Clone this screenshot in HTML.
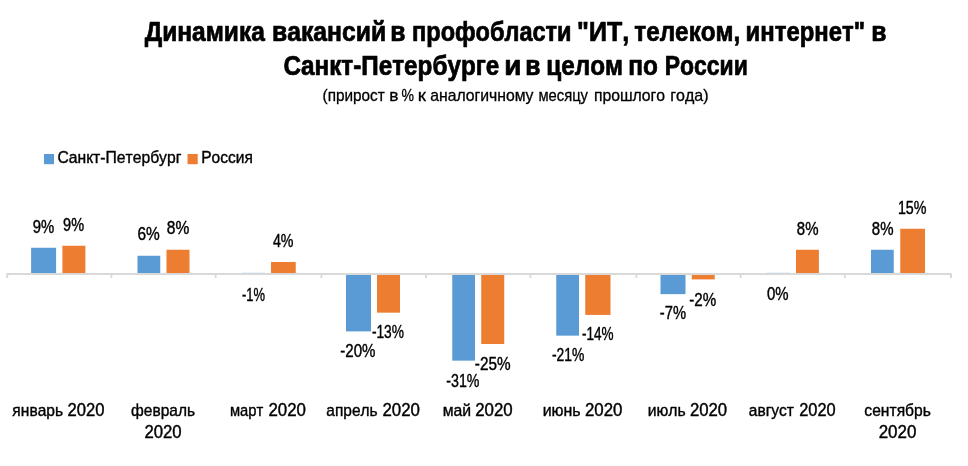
<!DOCTYPE html>
<html lang="ru"><head><meta charset="utf-8"><title>Динамика вакансий</title>
<style>
html,body{margin:0;padding:0;background:#fff}
svg{display:block}
text{font-family:"Liberation Sans",sans-serif;fill:#000;stroke:#000;stroke-linejoin:round;font-kerning:none}
</style></head><body>
<svg width="968" height="466" viewBox="0 0 968 466">
<rect width="968" height="466" fill="#fff"/>
<text transform="translate(144.78 40.60) scale(0.9427 1.0400)" font-size="26" font-weight="700" stroke-width="0.7">Динамика</text>
<text transform="translate(272.02 40.60) scale(0.9512 1.0400)" font-size="26" font-weight="700" stroke-width="0.7">вакансий</text>
<text transform="translate(390.27 40.60) scale(0.9504 1.0400)" font-size="26" font-weight="700" stroke-width="0.7">в</text>
<text transform="translate(412.11 40.60) scale(0.9048 1.0400)" font-size="26" font-weight="700" stroke-width="0.7">профобласти</text>
<text transform="translate(577.10 40.60) scale(0.9622 1.0400)" font-size="26" font-weight="700" stroke-width="0.7">&quot;ИТ,</text>
<text transform="translate(634.31 40.60) scale(0.9343 1.0400)" font-size="26" font-weight="700" stroke-width="0.7">телеком,</text>
<text transform="translate(745.59 40.60) scale(0.9192 1.0400)" font-size="26" font-weight="700" stroke-width="0.7">интернет&quot;</text>
<text transform="translate(871.27 40.60) scale(0.9504 1.0400)" font-size="26" font-weight="700" stroke-width="0.7">в</text>
<text transform="translate(283.50 75.10) scale(0.9333 1.0400)" font-size="26" font-weight="700" stroke-width="0.7">Санкт-Петербурге</text>
<text transform="translate(504.32 75.10) scale(1.0705 1.0400)" font-size="26" font-weight="700" stroke-width="0.7">и</text>
<text transform="translate(525.27 75.10) scale(0.9504 1.0400)" font-size="26" font-weight="700" stroke-width="0.7">в</text>
<text transform="translate(546.30 75.10) scale(0.9338 1.0400)" font-size="26" font-weight="700" stroke-width="0.7">целом</text>
<text transform="translate(628.30 75.10) scale(0.9390 1.0400)" font-size="26" font-weight="700" stroke-width="0.7">по</text>
<text transform="translate(664.71 75.10) scale(0.8833 1.0400)" font-size="26" font-weight="700" stroke-width="0.7">России</text>
<text transform="translate(322.55 101.20) scale(0.9578 1.0000)" font-size="16" stroke-width="0.3">(прирост</text>
<text transform="translate(389.30 101.20) scale(1.0828 1.0000)" font-size="16" stroke-width="0.3">в</text>
<text transform="translate(401.50 101.20) scale(0.8788 1.0000)" font-size="16" stroke-width="0.3">%</text>
<text transform="translate(417.74 101.20) scale(1.1667 1.0000)" font-size="16" stroke-width="0.3">к</text>
<text transform="translate(430.33 101.20) scale(0.9856 1.0000)" font-size="16" stroke-width="0.3">аналогичному</text>
<text transform="translate(538.48 101.20) scale(0.9223 1.0000)" font-size="16" stroke-width="0.3">месяцу</text>
<text transform="translate(593.91 101.20) scale(0.9860 1.0000)" font-size="16" stroke-width="0.3">прошлого</text>
<text transform="translate(670.14 101.20) scale(1.0015 1.0000)" font-size="16" stroke-width="0.3">года)</text>
<rect x="44" y="154" width="10" height="10.2" fill="#5b9bd5"/>
<rect x="187.5" y="154" width="10.2" height="10.2" fill="#ed7d31"/>
<text transform="translate(57.45 163.00) scale(0.9236 1.0000)" font-size="17" stroke-width="0.4">Санкт-Петербург</text>
<text transform="translate(201.23 163.00) scale(0.9134 1.0000)" font-size="17" stroke-width="0.4">Россия</text>
<rect x="6.4" y="273" width="945" height="2" fill="#d9d9d9"/>
<rect x="110.50" y="275" width="1.8" height="3" fill="#d9d9d9"/>
<rect x="214.80" y="275" width="1.8" height="3" fill="#d9d9d9"/>
<rect x="320.50" y="275" width="1.8" height="3" fill="#d9d9d9"/>
<rect x="425.00" y="275" width="1.8" height="3" fill="#d9d9d9"/>
<rect x="529.50" y="275" width="1.8" height="3" fill="#d9d9d9"/>
<rect x="635.50" y="275" width="1.8" height="3" fill="#d9d9d9"/>
<rect x="739.70" y="275" width="1.8" height="3" fill="#d9d9d9"/>
<rect x="843.90" y="275" width="1.8" height="3" fill="#d9d9d9"/>
<rect x="6.2" y="274" width="2" height="4" fill="#d9d9d9"/>
<rect x="950" y="274" width="2" height="4" fill="#d9d9d9"/>
<rect x="31.1" y="247.75" width="25.00" height="25.25" fill="#5b9bd5"/>
<rect x="62.4" y="245.75" width="23.00" height="27.25" fill="#ed7d31"/>
<rect x="137.5" y="255.75" width="22.75" height="17.25" fill="#5b9bd5"/>
<rect x="166.5" y="249.75" width="23.00" height="23.25" fill="#ed7d31"/>
<rect x="271" y="262.0" width="24.75" height="11.00" fill="#ed7d31"/>
<rect x="346" y="275" width="25.00" height="56.40" fill="#5b9bd5"/>
<rect x="377" y="275" width="23.00" height="37.65" fill="#ed7d31"/>
<rect x="452.25" y="275" width="22.75" height="85.65" fill="#5b9bd5"/>
<rect x="481.25" y="275" width="23.00" height="69.00" fill="#ed7d31"/>
<rect x="556.25" y="275" width="22.75" height="60.65" fill="#5b9bd5"/>
<rect x="585.25" y="275" width="25.25" height="39.90" fill="#ed7d31"/>
<rect x="660.5" y="275" width="25.00" height="19.15" fill="#5b9bd5"/>
<rect x="691.75" y="275" width="23.00" height="4.40" fill="#ed7d31"/>
<rect x="796" y="249.75" width="22.90" height="23.25" fill="#ed7d31"/>
<rect x="871" y="249.75" width="22.75" height="23.25" fill="#5b9bd5"/>
<rect x="900.25" y="228.75" width="24.75" height="44.25" fill="#ed7d31"/>
<rect x="242" y="272.5" width="23" height="0.6" fill="#5b9bd5" opacity="0.25"/>
<rect x="767" y="272.5" width="22.5" height="0.6" fill="#5b9bd5" opacity="0.25"/>
<text transform="translate(32.80 233.10) scale(0.8741 1.0400)" font-size="17" stroke-width="0.4">9%</text>
<text transform="translate(63.07 230.85) scale(0.8525 1.0400)" font-size="17" stroke-width="0.4">9%</text>
<text transform="translate(137.47 240.10) scale(0.9090 1.0400)" font-size="17" stroke-width="0.4">6%</text>
<text transform="translate(166.82 234.10) scale(0.9149 1.0400)" font-size="17" stroke-width="0.4">8%</text>
<text transform="translate(241.92 300.85) scale(0.7620 1.0400)" font-size="17" stroke-width="0.4">-1%</text>
<text transform="translate(272.92 247.10) scale(0.8378 1.0400)" font-size="17" stroke-width="0.4">4%</text>
<text transform="translate(340.33 357.35) scale(0.8872 1.0400)" font-size="17" stroke-width="0.4">-20%</text>
<text transform="translate(371.89 338.10) scale(0.8089 1.0400)" font-size="17" stroke-width="0.4">-13%</text>
<text transform="translate(446.37 387.10) scale(0.8350 1.0400)" font-size="17" stroke-width="0.4">-31%</text>
<text transform="translate(474.82 370.10) scale(0.9002 1.0400)" font-size="17" stroke-width="0.4">-25%</text>
<text transform="translate(551.88 361.10) scale(0.8154 1.0400)" font-size="17" stroke-width="0.4">-21%</text>
<text transform="translate(581.90 340.10) scale(0.7958 1.0400)" font-size="17" stroke-width="0.4">-14%</text>
<text transform="translate(659.85 318.60) scale(0.8659 1.0400)" font-size="17" stroke-width="0.4">-7%</text>
<text transform="translate(689.33 305.60) scale(0.8919 1.0400)" font-size="17" stroke-width="0.4">-2%</text>
<text transform="translate(766.92 299.85) scale(0.8798 1.0400)" font-size="17" stroke-width="0.4">0%</text>
<text transform="translate(796.85 234.60) scale(0.8826 1.0400)" font-size="17" stroke-width="0.4">8%</text>
<text transform="translate(871.85 234.60) scale(0.8826 1.0400)" font-size="17" stroke-width="0.4">8%</text>
<text transform="translate(897.91 214.35) scale(0.8405 1.0400)" font-size="17" stroke-width="0.4">15%</text>
<text transform="translate(12.37 416.00) scale(0.9165 1.0000)" font-size="17" stroke-width="0.4">январь</text>
<text transform="translate(67.41 416.00) scale(0.9780 1.0500)" font-size="17" stroke-width="0.4">2020</text>
<text transform="translate(131.10 416.00) scale(0.9128 1.0000)" font-size="17" stroke-width="0.4">февраль</text>
<text transform="translate(229.98 416.00) scale(0.8669 1.0000)" font-size="17" stroke-width="0.4">март</text>
<text transform="translate(268.40 416.00) scale(0.9918 1.0500)" font-size="17" stroke-width="0.4">2020</text>
<text transform="translate(326.34 416.00) scale(0.9103 1.0000)" font-size="17" stroke-width="0.4">апрель</text>
<text transform="translate(382.40 416.00) scale(0.9918 1.0500)" font-size="17" stroke-width="0.4">2020</text>
<text transform="translate(442.66 416.00) scale(0.9282 1.0000)" font-size="17" stroke-width="0.4">май</text>
<text transform="translate(475.15 416.00) scale(0.9918 1.0500)" font-size="17" stroke-width="0.4">2020</text>
<text transform="translate(542.64 416.00) scale(0.9387 1.0000)" font-size="17" stroke-width="0.4">июнь</text>
<text transform="translate(584.90 416.00) scale(0.9918 1.0500)" font-size="17" stroke-width="0.4">2020</text>
<text transform="translate(647.66 416.00) scale(0.9260 1.0000)" font-size="17" stroke-width="0.4">июль</text>
<text transform="translate(689.91 416.00) scale(0.9849 1.0500)" font-size="17" stroke-width="0.4">2020</text>
<text transform="translate(748.84 416.00) scale(0.9131 1.0000)" font-size="17" stroke-width="0.4">август</text>
<text transform="translate(799.18 416.00) scale(0.9642 1.0500)" font-size="17" stroke-width="0.4">2020</text>
<text transform="translate(864.34 416.00) scale(0.9195 1.0000)" font-size="17" stroke-width="0.4">сентябрь</text>
<text transform="translate(144.41 438.25) scale(0.9849 1.0500)" font-size="17" stroke-width="0.4">2020</text>
<text transform="translate(878.65 438.25) scale(0.9986 1.0500)" font-size="17" stroke-width="0.4">2020</text>
</svg>
</body></html>
